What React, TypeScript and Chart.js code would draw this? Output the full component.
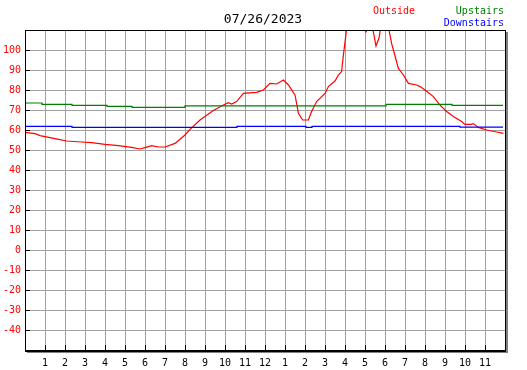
import React, { useEffect, useRef } from "react";
import { Chart, registerables } from "chart.js";

Chart.register(...registerables);

const chartTitle = "07/26/2023";
const hourLabels = ["1", "2", "3", "4", "5", "6", "7", "8", "9", "10", "11", "12", "1", "2", "3", "4", "5", "6", "7", "8", "9", "10", "11"];

const outsideHours = [0, 0.5, 0.75, 1.25, 1.67, 2.08, 2.83, 3.33, 4.0, 4.67, 5.33, 5.75, 6.0, 6.33, 6.67, 7.0, 7.5, 8.0, 8.25, 8.75, 9.42, 9.92, 10.17, 10.33, 10.58, 10.92, 11.58, 11.92, 12.25, 12.58, 12.92, 13.17, 13.5, 13.58, 13.67, 13.88, 14.17, 14.33, 14.58, 15.0, 15.17, 15.5, 15.67, 15.83, 15.92, 16.1, 16.5, 16.9, 17.05, 17.2, 17.4, 17.55, 17.7, 17.8, 18.0, 18.2, 18.33, 18.42, 18.67, 18.92, 19.17, 19.58, 19.75, 20.0, 20.42, 20.75, 21.08, 21.42, 21.83, 22.0, 22.3, 22.42, 22.67, 23.08, 23.58, 23.92];
const outsideTemps = [58.8, 58.2, 57.2, 56.2, 55.3, 54.5, 54.0, 53.7, 52.8, 52.2, 51.3, 50.5, 51.2, 52.2, 51.5, 51.5, 53.3, 57.5, 60.3, 65.0, 69.7, 72.5, 73.7, 73.0, 74.2, 78.3, 78.8, 80.0, 83.3, 83.0, 85.0, 82.5, 77.5, 73.3, 68.3, 65.0, 65.0, 69.2, 74.2, 78.3, 81.7, 84.5, 87.5, 89.2, 97.5, 112, 118, 112, 109, 112, 110, 102, 106, 112, 118, 110, 103.3, 100, 90.8, 87.5, 83.3, 82.5, 81.7, 80.0, 76.7, 72.5, 69.2, 66.7, 64.2, 62.8, 62.8, 63.2, 61.3, 60.0, 59.0, 58.3];

const upstairsHours = [0, 0.85, 2.35, 4.1, 5.35, 8.0, 18.05, 21.35, 23.9];
const upstairsTemps = [73.5, 72.8, 72.3, 71.8, 71.3, 72.1, 72.8, 72.3, 72.3];

const downstairsHours = [0, 2.35, 10.6, 14.05, 14.35, 21.75, 23.9];
const downstairsTemps = [61.8, 61.3, 61.8, 61.3, 61.8, 61.4, 61.4];

const toPoints = (xs: number[], ys: number[]) => xs.map((x, i) => ({ x, y: ys[i] }));

const frameAndText = {
  id: "frameAndText",
  afterDraw(chart: any) {
    const { ctx, chartArea } = chart;
    const { left, right, top, bottom } = chartArea;
    const xs = chart.scales.x;
    const ys = chart.scales.y;
    ctx.save();
    ctx.fillStyle = "#808080";
    ctx.fillRect(Math.round(right) + 1, Math.round(top) + 2, 2, Math.round(bottom - top) + 1);
    ctx.fillRect(Math.round(left) + 2, Math.round(bottom) + 2, Math.round(right - left) + 1, 1);
    ctx.strokeStyle = "#000000";
    ctx.lineWidth = 1;
    ctx.strokeRect(Math.round(left) + 0.5, Math.round(top) + 0.5, Math.round(right - left), Math.round(bottom - top));
    ctx.beginPath();
    ctx.moveTo(Math.round(left), Math.round(bottom) + 1.5);
    ctx.lineTo(Math.round(right) + 1, Math.round(bottom) + 1.5);
    ctx.stroke();
    ctx.beginPath();
    xs.ticks.forEach((t: any) => {
      if (t.value >= 1 && t.value <= 23) {
        const px = Math.round(xs.getPixelForValue(t.value)) + 0.5;
        ctx.moveTo(px, bottom);
        ctx.lineTo(px, bottom - 5);
      }
    });
    ys.ticks.forEach((t: any) => {
      if (t.value >= -40 && t.value <= 100) {
        const py = Math.round(ys.getPixelForValue(t.value)) + 0.5;
        ctx.moveTo(left, py);
        ctx.lineTo(left + 5, py);
      }
    });
    ctx.stroke();
    ctx.textBaseline = "middle";
    ctx.font = '13px "DejaVu Sans Mono"';
    ctx.fillStyle = "#000000";
    ctx.textAlign = "center";
    ctx.fillText(chartTitle, 263, 20);
    ctx.font = '10px "DejaVu Sans Mono"';
    ctx.textAlign = "left";
    ctx.fillStyle = "#ff0000";
    ctx.fillText("Outside", 373, 11);
    ctx.textAlign = "right";
    ctx.fillStyle = "#008000";
    ctx.fillText("Upstairs", 504, 11);
    ctx.fillStyle = "#0000ff";
    ctx.fillText("Downstairs", 504, 23);
    ctx.restore();
  },
};

export default function App() {
  const ref = useRef<HTMLCanvasElement | null>(null);
  useEffect(() => {
    document.body.style.margin = "0";
    if (!ref.current) return;
    const chart = new Chart(ref.current, {
      type: "line",
      data: {
        datasets: [
          {
            label: "Upstairs",
            data: toPoints(upstairsHours, upstairsTemps),
            borderColor: "#008000",
            borderWidth: 1.2,
            pointRadius: 0,
            stepped: true,
            tension: 0,
          },
          {
            label: "Downstairs",
            data: toPoints(downstairsHours, downstairsTemps),
            borderColor: "#0000ff",
            borderWidth: 1.2,
            pointRadius: 0,
            stepped: true,
            tension: 0,
          },
          {
            label: "Outside",
            data: toPoints(outsideHours, outsideTemps),
            borderColor: "#ff0000",
            borderWidth: 1.2,
            pointRadius: 0,
            tension: 0,
          },
        ],
      },
      options: {
        animation: false,
        responsive: false,
        devicePixelRatio: 1,
        layout: { padding: { top: 30, right: 22, left: 0, bottom: 0 } },
        plugins: { legend: { display: false }, tooltip: { enabled: false }, title: { display: false } },
        scales: {
          x: {
            type: "linear",
            min: 0,
            max: 24,
            afterFit: (s: any) => {
              s.height = 20;
            },
            border: { display: false },
            grid: { color: "#a0a0a0", lineWidth: 1, drawTicks: false },
            ticks: {
              stepSize: 1,
              autoSkip: false,
              maxRotation: 0,
              padding: 7,
              color: "#000000",
              font: { family: "DejaVu Sans Mono", size: 10 },
              callback: (v: any) => (v >= 1 && v <= 23 ? hourLabels[v - 1] : ""),
            },
          },
          y: {
            type: "linear",
            min: -50,
            max: 110,
            afterFit: (s: any) => {
              s.width = 25;
            },
            border: { display: false },
            grid: { color: "#a0a0a0", lineWidth: 1, drawTicks: false },
            ticks: {
              stepSize: 10,
              padding: 4,
              color: "#ff0000",
              font: { family: "DejaVu Sans Mono", size: 10 },
              callback: (v: any) => (v >= -40 && v <= 100 ? String(v) : ""),
            },
          },
        },
      },
      plugins: [frameAndText],
    });
    return () => chart.destroy();
  }, []);
  return (
    <div style={{ width: 527, height: 370, background: "#ffffff" }}>
      <canvas ref={ref} width={527} height={370} />
    </div>
  );
}
